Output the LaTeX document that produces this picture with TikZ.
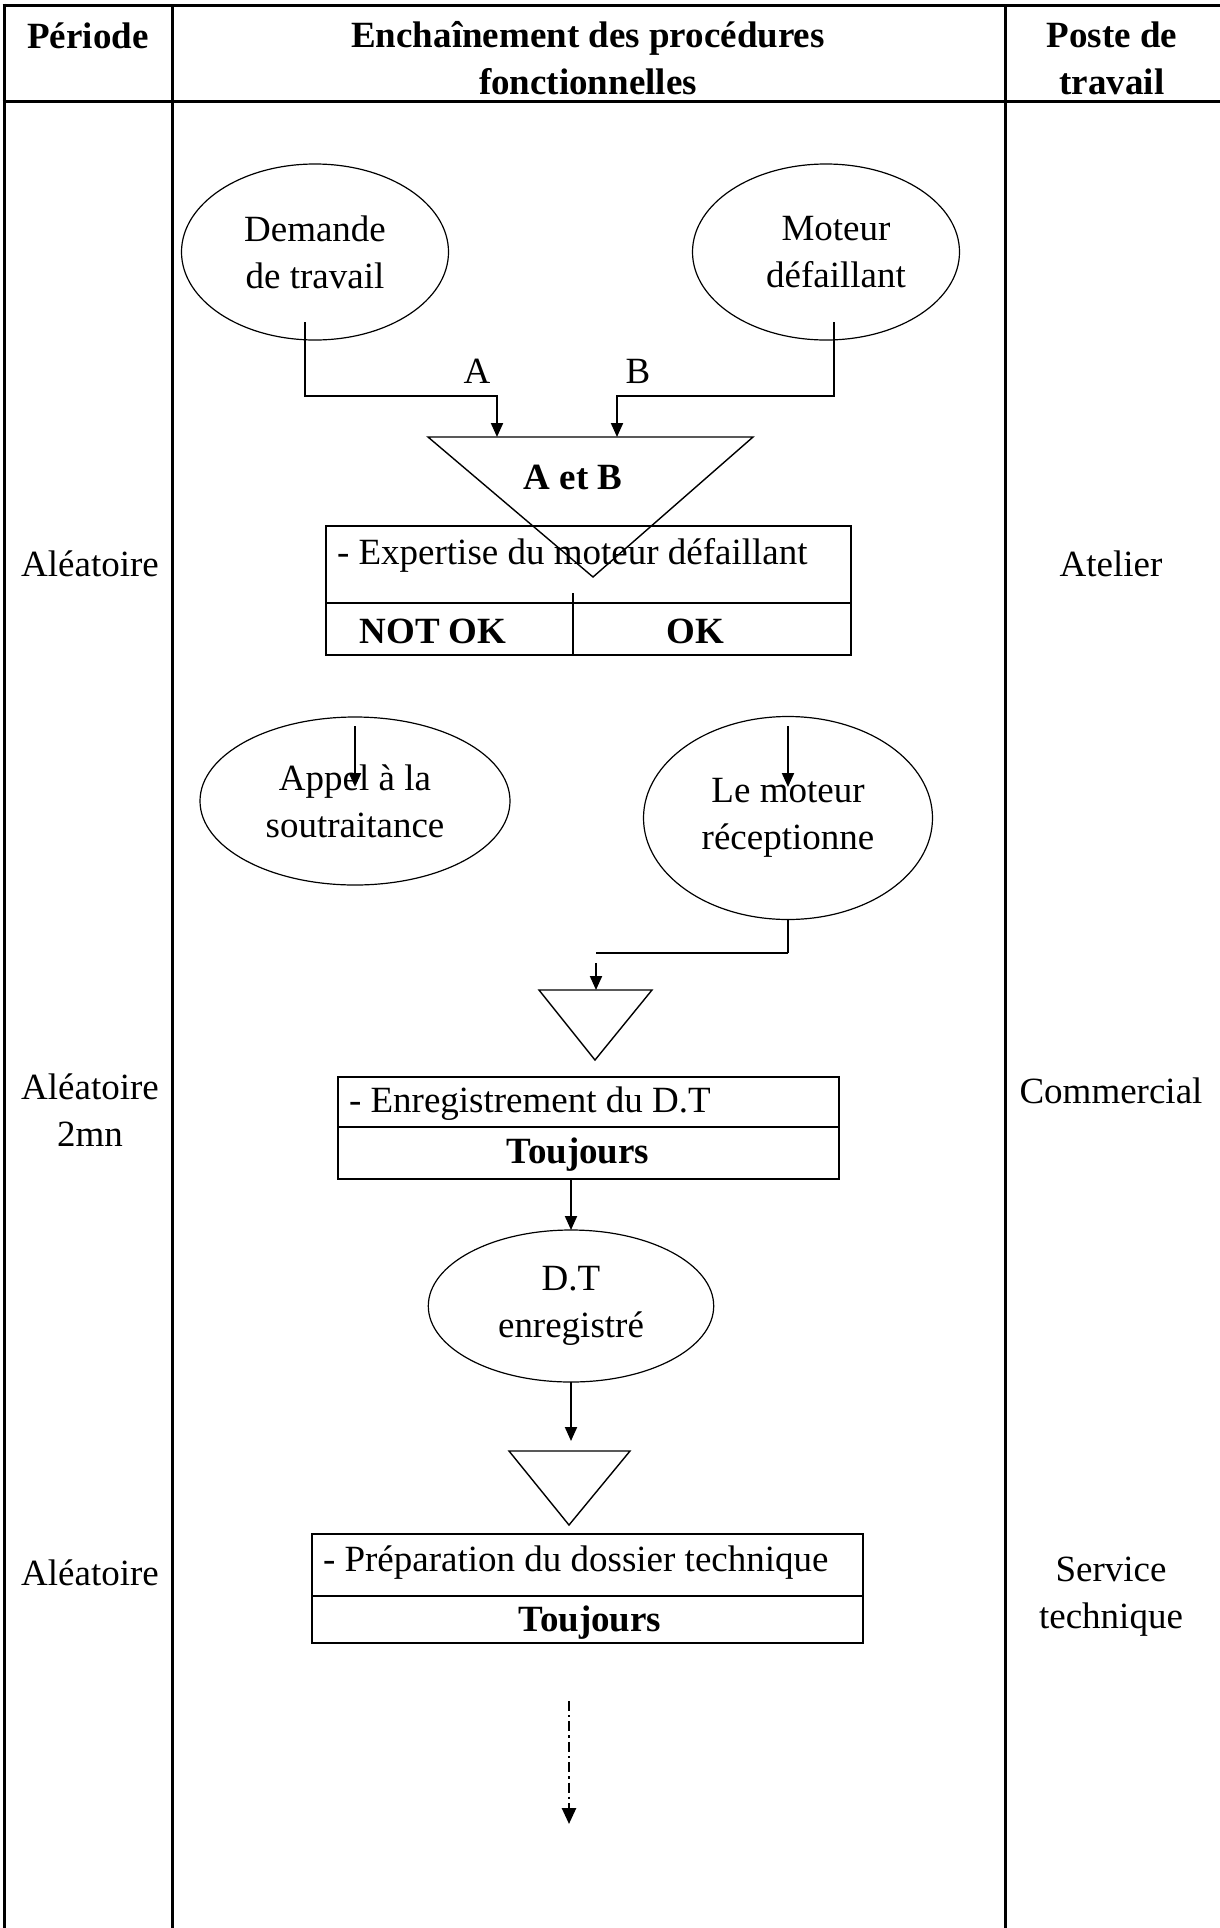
\documentclass[tikz,border=0pt]{standalone}
\usepackage{fontspec}
\setmainfont{Liberation Serif}
\usetikzlibrary{shapes.geometric,arrows.meta}
\begin{document}
\begin{tikzpicture}[x=0.5pt,y=-0.5pt,
  every node/.style={font=\fontsize{18.5}{23.5}\selectfont, inner sep=0pt, outer sep=0pt},
  tbl/.style={line width=1.5pt},
  ell/.style={draw, ellipse, line width=0.6pt, align=center},
  boxnode/.style={draw, line width=0.9pt, rectangle},
  boxline/.style={line width=0.9pt},
  tri/.style={line width=0.7pt, line join=miter},
  conn/.style={line width=0.9pt},
  arr/.style={line width=1pt, -{Triangle[length=7pt,width=6pt]}},
  lbl/.style={align=center},
  bold/.style={font=\fontsize{18.5}{23.5}\selectfont\bfseries, align=center},
]
\useasboundingbox (0,0) rectangle (1220,1928);

% table frame
\draw[tbl] (2.5,5) -- (1220,5);
\draw[tbl] (2.5,101) -- (1220,101);
\draw[tbl] (4,3.5) -- (4,1928);
\draw[tbl] (172,5) -- (172,1928);
\draw[tbl] (1005,5) -- (1005,1928);

% header
\node[bold] (hper) at (88,36) {Période};
\node[bold] (henc) at (588,58) {Enchaînement des procédures\\fonctionnelles};
\node[bold] (hpos) at (1112,58) {Poste de\\travail};

% side labels
\node[lbl] (p1) at (90,564) {Aléatoire};
\node[lbl] (p2) at (90,1110) {Aléatoire\\2mn};
\node[lbl] (p3) at (90,1573) {Aléatoire};
\node[lbl] (w1) at (1111,564) {Atelier};
\node[lbl] (w2) at (1111,1091) {Commercial};
\node[lbl] (w3) at (1111,1597) {Service\\technique};

% first row ellipses
\node[ell, minimum width=133.5pt, minimum height=88pt] (dem) at (315,252) {Demande\\de travail};
\node[ell, minimum width=133.5pt, minimum height=88pt] (mot) at (826,252) {\hspace*{10pt}Moteur\\\hspace*{10pt}défaillant};

% big triangle
\draw[tri] (428,437) -- (753,437) -- (593,577) -- cycle;
\node[bold] (aetb) at (573,477) {A et B};
\coordinate (tA) at (497,437);
\coordinate (tB) at (617,437);

% connectors A and B
\coordinate (a0) at (305,322);
\coordinate (a1) at (497,396);
\coordinate (b0) at (834,322);
\coordinate (b1) at (617,396);
\draw[arr] (a0) |- (a1) -- (tA);
\draw[arr] (b0) |- (b1) -- (tB);
\node (labA) at (477,371) {A};
\node (labB) at (638,371) {B};

% expertise box
\node[boxnode, minimum width=262.5pt, minimum height=64.5pt] (exp) at (588.5,590.5) {};
\draw[boxline] (326,603) -- (851,603);
\draw[boxline] (573,593) -- (573,655);
\node[anchor=west] (expt) at (337,555) {- Expertise du moteur défaillant};
\node[bold] (nok) at (433,631) {NOT OK};
\node[bold] (ok) at (695,631) {OK};

% second row ellipses
\node[ell, minimum width=155pt, minimum height=84pt] (app) at (355,801) {Appel à la\\soutraitance};
\node[ell, minimum width=144.5pt, minimum height=101.5pt] (rec) at (788,818) {Le moteur\\réceptionne};
\coordinate (n1) at (355,726);
\coordinate (n2) at (355,787);
\coordinate (o1) at (788,726);
\coordinate (o2) at (788,787);
\draw[arr] (n1) -- (n2);
\draw[arr] (o1) -- (o2);

% connector from rec to triangle 2
\coordinate (r1) at (788,953);
\coordinate (r2) at (596,953);
\coordinate (r3) at (596,963);
\coordinate (t2top) at (596,990);
\draw[conn] (rec.south) -- (r1);
\draw[line width=1.2pt] (r1) -- (r2);
\draw[arr] (r3) -- (t2top);

% triangle 2
\draw[tri] (539,990) -- (652,990) -- (595,1060) -- cycle;

% enregistrement box
\node[boxnode, minimum width=250.5pt, minimum height=51pt] (enr) at (588.5,1128) {};
\draw[boxline] (338,1127) -- (839,1127);
\node[anchor=west] (enrt) at (349,1104) {- Enregistrement du D.T};
\node[bold] (tj1) at (578,1155) {Toujours};

% D.T ellipse
\node[ell, minimum width=142.7pt, minimum height=76pt] (dt) at (571,1306) {D.T\\enregistré};
\draw[arr] (enr.south -| dt.north) -- (dt.north);
\coordinate (t3top) at (571,1441);
\draw[arr] (dt.south) -- (t3top);

% triangle 3
\draw[tri] (509,1451) -- (630,1451) -- (569,1525) -- cycle;

% preparation box
\node[boxnode, minimum width=275.5pt, minimum height=54.5pt] (prep) at (587.5,1588.5) {};
\draw[boxline] (312,1596) -- (863,1596);
\node[anchor=west] (prept) at (323,1563) {- Préparation du dossier technique};
\node[bold] (tj2) at (590,1623) {Toujours};

% dash-dot continuation
\coordinate (d0) at (569,1701);
\coordinate (d1) at (569,1824);
\draw[line width=1.3pt, -{Triangle[length=8pt,width=7pt]}, dash pattern=on 5pt off 2pt on 1.2pt off 2pt] (d0) -- (d1);
\end{tikzpicture}
\end{document}
